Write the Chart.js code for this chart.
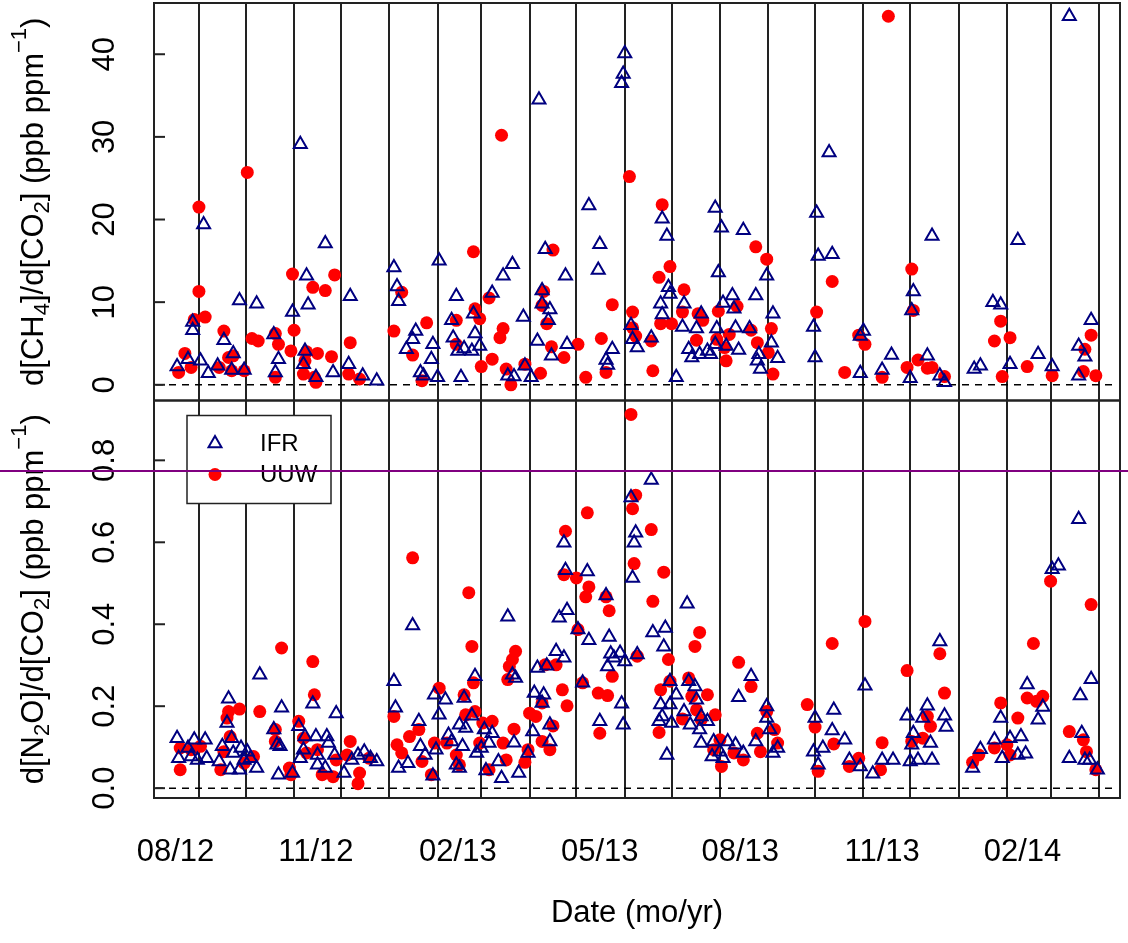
<!DOCTYPE html>
<html lang="en">
<head>
    <meta charset="UTF-8">
    <title>CH4 and N2O to CO2 ratios</title>
    <script src="https://cdn.jsdelivr.net/npm/chart.js"></script>
    <style>
        html, body { margin: 0; padding: 0; background: #fff; }
        #ratios { display: block; }
    </style>
</head>
<body>
    <canvas id="ratios" width="1128" height="943"></canvas>

    <script>
        // sample dates are days since 1 Aug 2012
        const ifrCh4Day = [34, 96, 112, 17, 24, 27, 27, 32, 37, 43, 47, 53, 52, 57, 68, 60, 79, 82, 80, 91, 100, 101, 99, 98, 106, 117, 128, 127, 136, 145,
            156, 158, 159, 170, 168, 164, 181, 180, 173, 175, 184, 185, 196, 193, 194, 197, 201, 206, 207, 208, 211, 199,
            304, 303, 302, 249, 281, 362, 366, 380, 328, 331, 232, 226, 219, 239, 229, 233, 240, 244, 253, 251, 251, 256, 255, 248, 257, 267, 266,
            288, 287, 296, 292, 293, 308, 309, 312, 321, 327, 328, 332, 333, 337, 341, 342, 345, 347, 350, 353, 352, 357, 359, 362, 363, 364, 367,
            369, 373, 374, 375, 377, 384, 388, 390, 389, 391, 395, 399, 398, 402,
            589, 435, 427, 501, 556, 428, 437, 425, 426, 457, 455, 455, 469, 475, 489, 488, 487, 498, 506, 509, 528, 532, 540, 545, 551, 569, 578,
            595, 599, 603, 595];
        const ifrCh4 = [19.4, 29.1, 17.1, 2.2, 3.1, 7.6, 6.6, 2.9, 1.4, 2.3, 5.4, 3.8, 1.8, 10.2, 9.8, 1.8, 6.1, 3.1, 1.5, 8.8, 13.2, 9.7, 4.1, 2.5, 0.9, 1.5, 10.7, 2.5, 1.1, 0.5,
            14.2, 11.9, 10.1, 6.5, 5.5, 4.3, 4.9, 3.1, 1.5, 1.1, 0.9, 15.0, 10.7, 7.8, 5.7, 4.1, 4.4, 4.1, 8.6, 6.2, 4.7, 0.9,
            40.1, 37.6, 36.5, 34.5, 21.7, 21.4, 19.0, 18.7, 20.1, 18.0, 14.6, 13.2, 11.1, 8.2, 1.1, 1.0, 2.3, 0.9, 16.4, 11.4, 9.8, 9.1, 7.8, 5.3, 3.5, 4.9, 13.2,
            17.0, 13.9, 4.3, 3.0, 2.4, 7.2, 5.5, 4.5, 5.7, 9.8, 8.5, 11.8, 11.0, 0.9, 7.0, 9.8, 4.3, 3.3, 6.8, 8.6, 3.7, 4.1, 3.7, 4.9, 6.8, 13.6, 9.9,
            4.7, 10.8, 9.2, 6.9, 4.2, 6.8, 10.8, 3.7, 2.9, 1.9, 13.2, 8.6, 5.1, 3.2,
            44.6, 28.1, 20.8, 18.0, 17.5, 15.6, 15.8, 7.0, 3.3, 6.5, 5.9, 1.4, 1.8, 3.6, 11.3, 9.0, 0.8, 3.5, 1.1, 0.3, 1.9, 2.3, 10.0, 9.7, 2.5, 3.7, 2.2,
            4.7, 3.4, 7.8, 1.1];

        const uuwCh4Day = [31, 62, 31, 28, 35, 22, 26, 18, 47, 50, 53, 52, 44, 60, 65, 69, 80, 82, 80, 91, 92, 90, 104, 112, 118, 100, 107, 116, 99, 98, 106, 105,
            128, 127, 134, 156, 161, 177, 168, 174, 196, 196, 207, 208, 211, 212,
            225, 307, 328, 258, 217, 226, 224, 219, 228, 231, 240, 250, 252, 251, 254, 257, 265, 274, 279, 289, 292, 296, 309, 309, 311, 321, 322,
            326, 333, 327, 334, 342, 341, 351, 354, 350, 364, 368, 369, 371, 376, 385, 389, 396, 398, 399, 388, 395, 363,
            473, 437, 427, 488, 489, 454, 458, 445, 469, 485, 492, 498, 501, 509, 545, 541, 551, 546, 562, 578, 603, 599, 598, 606];
        const uuwCh4 = [21.5, 25.7, 11.3, 7.9, 8.2, 3.8, 2.1, 1.5, 6.5, 3.3, 3.5, 1.7, 2.1, 1.7, 5.6, 5.3, 6.2, 4.9, 0.9, 13.4, 6.6, 4.1, 11.8, 11.4, 13.3, 4.0, 3.8, 3.4, 2.9, 1.3, 0.3, 0.9,
            5.1, 1.3, 0.7, 6.5, 11.2, 7.5, 3.6, 0.5, 7.8, 4.9, 16.1, 9.2, 8.0, 2.2,
            30.2, 25.2, 21.8, 16.3, 10.5, 6.8, 5.7, 3.1, 1.9, 0.0, 2.5, 1.4, 11.3, 9.6, 7.4, 4.6, 3.3, 4.9, 0.9, 5.6, 1.5, 9.7, 8.8, 6.9, 5.9, 5.3, 1.7,
            13.0, 14.3, 7.4, 7.4, 11.5, 8.8, 8.6, 7.8, 5.4, 8.9, 4.5, 2.9, 6.1, 9.5, 6.6, 5.1, 3.9, 6.8, 1.3, 16.7, 15.2, 5.5,
            44.6, 12.5, 8.8, 14.0, 9.0, 6.0, 4.9, 1.5, 0.9, 2.1, 3.0, 2.0, 2.1, 1.0, 7.7, 5.3, 5.7, 1.0, 2.2, 1.1, 6.0, 4.3, 1.6, 1.1];

        const ifrN2oDay = [17, 18, 24, 26, 28, 30, 35, 36, 44, 50, 49, 46, 52, 53, 51, 57, 58, 62, 60, 64, 68, 70, 84, 79, 81, 83, 82, 91, 95, 99,
            104, 106, 98, 96, 107, 107, 112, 113, 114, 118, 119, 124, 129, 133, 137, 141, 145, 156, 157, 159, 165, 172, 173, 176, 181, 183, 182,
            189, 185, 191, 193, 198, 201, 200, 202, 196, 198, 206, 208, 209,
            321, 308, 265, 311, 310, 168, 266, 280, 309, 292, 267, 262, 344, 229, 274, 281, 294, 322, 330, 329, 260, 265, 248, 254, 295, 301, 297,
            293, 304, 312, 277, 246, 252, 251, 232, 234, 302, 303, 288, 333, 337, 327, 333, 328, 326, 334, 331, 345, 349, 350, 342, 346, 352, 353,
            357, 353, 361, 360, 365, 367, 370, 375, 380, 377, 385, 388, 395, 395, 397, 399, 402, 245, 256, 256, 242, 236, 225, 223, 215, 214, 219,
            217, 212, 233,
            595, 578, 582, 506, 458, 603, 596, 562, 426, 438, 437, 445, 431, 425, 428, 448, 455, 463, 469, 476, 485, 495, 498, 509, 510, 489, 488,
            500, 487, 492, 501, 527, 532, 541, 545, 546, 551, 558, 556, 561, 569, 572, 597, 589, 599, 602, 607];
        const ifrN2o = [0.122, 0.073, 0.098, 0.077, 0.118, 0.069, 0.118, 0.073, 0.065, 0.218, 0.159, 0.102, 0.122, 0.086, 0.045, 0.045, 0.098, 0.089, 0.069, 0.073, 0.049, 0.277, 0.196, 0.143, 0.106, 0.102, 0.033, 0.037, 0.151, 0.126,
            0.206, 0.126, 0.094, 0.073, 0.081, 0.057, 0.049, 0.126, 0.110, 0.081, 0.182, 0.037, 0.069, 0.081, 0.089, 0.073, 0.065, 0.261, 0.196, 0.049, 0.061, 0.163, 0.102, 0.081, 0.030, 0.094, 0.228,
            0.216, 0.179, 0.130, 0.114, 0.155, 0.220, 0.102, 0.147, 0.057, 0.049, 0.177, 0.273, 0.086,
            0.752, 0.709, 0.599, 0.623, 0.599, 0.397, 0.532, 0.529, 0.513, 0.470, 0.434, 0.416, 0.450, 0.418, 0.387, 0.361, 0.369, 0.380, 0.391, 0.345, 0.334, 0.318, 0.293, 0.299, 0.328, 0.330, 0.318,
            0.297, 0.309, 0.326, 0.257, 0.232, 0.228, 0.208, 0.277, 0.269, 0.206, 0.155, 0.163, 0.261, 0.228, 0.204, 0.204, 0.175, 0.163, 0.159, 0.081, 0.261, 0.248, 0.216, 0.187, 0.155, 0.143, 0.175,
            0.163, 0.110, 0.114, 0.077, 0.089, 0.073, 0.114, 0.106, 0.086, 0.222, 0.273, 0.114, 0.199, 0.171, 0.143, 0.086, 0.098, 0.138, 0.155, 0.114, 0.086, 0.037, 0.024, 0.065, 0.043, 0.143, 0.134,
            0.110, 0.098, 0.111,
            0.656, 0.534, 0.543, 0.358, 0.250, 0.266, 0.226, 0.253, 0.171, 0.191, 0.141, 0.118, 0.098, 0.089, 0.057, 0.069, 0.053, 0.035, 0.069, 0.069, 0.177, 0.171, 0.201, 0.177, 0.149, 0.134, 0.106,
            0.110, 0.065, 0.069, 0.069, 0.049, 0.095, 0.118, 0.171, 0.073, 0.122, 0.126, 0.081, 0.084, 0.167, 0.198, 0.134, 0.073, 0.069, 0.069, 0.045];

        const uuwN2oDay = [84, 104, 105, 70, 57, 50, 49, 51, 19, 19, 26, 32, 45, 47, 60, 66, 80, 80, 89, 90, 95, 98, 100, 107, 110, 117, 119, 128, 134, 133,
            126, 140, 156, 158, 161, 166, 172, 174, 182, 185, 190, 196, 201, 202, 206, 207, 208, 211, 198, 180,
            308, 311, 309, 280, 266, 321, 168, 204, 310, 329, 322, 352, 349, 265, 273, 281, 279, 292, 294, 274, 277, 296, 287, 293, 288, 312, 332,
            333, 327, 326, 345, 347, 357, 362, 341, 350, 353, 365, 366, 361, 377, 385, 380, 374, 389, 391, 395, 400, 402, 421, 234, 232, 230, 229,
            260, 253, 264, 267, 243, 247, 258, 233, 219, 213, 226, 251, 256, 242, 240, 228, 217, 251,
            577, 603, 458, 437, 566, 506, 485, 509, 545, 562, 572, 568, 426, 438, 428, 448, 454, 469, 468, 498, 500, 495, 488, 556, 549, 541, 551,
            531, 527, 589, 598, 600, 606];
        const uuwN2o = [0.342, 0.309, 0.228, 0.187, 0.193, 0.187, 0.171, 0.126, 0.098, 0.045, 0.094, 0.102, 0.045, 0.089, 0.061, 0.077, 0.143, 0.114, 0.049, 0.033, 0.163, 0.122, 0.086, 0.094, 0.033, 0.028, 0.069, 0.114, 0.037, 0.011,
            0.081, 0.073, 0.175, 0.106, 0.086, 0.126, 0.143, 0.065, 0.110, 0.244, 0.110, 0.081, 0.228, 0.179, 0.346, 0.257, 0.187, 0.110, 0.057, 0.033,
            0.912, 0.715, 0.682, 0.672, 0.627, 0.631, 0.562, 0.477, 0.548, 0.527, 0.456, 0.380, 0.346, 0.521, 0.513, 0.491, 0.467, 0.467, 0.433, 0.387, 0.257, 0.273, 0.232, 0.226, 0.134, 0.322, 0.314,
            0.261, 0.240, 0.136, 0.269, 0.224, 0.228, 0.179, 0.169, 0.191, 0.167, 0.118, 0.053, 0.094, 0.307, 0.248, 0.069, 0.086, 0.134, 0.089, 0.187, 0.143, 0.110, 0.204, 0.334, 0.314, 0.297, 0.265,
            0.301, 0.301, 0.240, 0.201, 0.183, 0.175, 0.152, 0.144, 0.163, 0.159, 0.110, 0.114, 0.094, 0.094, 0.063, 0.069, 0.045, 0.208,
            0.505, 0.448, 0.407, 0.353, 0.353, 0.328, 0.287, 0.232, 0.208, 0.220, 0.224, 0.212, 0.149, 0.108, 0.041, 0.053, 0.073, 0.111, 0.045, 0.175, 0.151, 0.122, 0.114, 0.171, 0.106, 0.098, 0.081,
            0.081, 0.063, 0.138, 0.118, 0.089, 0.045];

        const dateTickDays = [16, 106, 197, 288, 378, 469, 559];
        const dateTickLabels = ['08/12', '11/12', '02/13', '05/13', '08/13', '11/13', '02/14'];
        const ch4Ticks = [0, 10, 20, 30, 40];
        const ch4TickLabels = ['0', '10', '20', '30', '40'];
        const n2oTicks = [0, 0.2, 0.4, 0.6, 0.8];
        const n2oTickLabels = ['0.0', '0.2', '0.4', '0.6', '0.8'];
        const seriesNames = ['IFR', 'UUW'];
        const markerLevel = 0.774;

        const ORIGIN = Date.UTC(2012, 7, 1);
        const monthStarts = [];
        for (let m = 8; m < 28; m++) {
            monthStarts.push((Date.UTC(2012, m, 1) - ORIGIN) / 86400000);
        }

        const FONT = '"Liberation Sans", Arial, Helvetica, sans-serif';
        Chart.defaults.font.family = FONT;
        Chart.defaults.color = '#000';

        const pts = (days, vals) => days.map((d, i) => ({ x: d, y: vals[i] }));

        const ifrStyle = {
            pointStyle: 'triangle', pointRadius: 7.5, pointBorderWidth: 2,
            pointBorderColor: '#000080', pointBackgroundColor: 'rgba(0,0,0,0)'
        };
        const uuwStyle = {
            pointStyle: 'circle', pointRadius: 6.5, pointBorderWidth: 0,
            pointBorderColor: '#ff0000', pointBackgroundColor: '#ff0000'
        };

        const ch4Title = [['d[CH', 'n'], ['4', 'sub'], [']/d[CO', 'n'], ['2', 'sub'], ['] (ppb ppm', 'n'], ['\u22121', 'sup'], [')', 'n']];
        const n2oTitle = [['d[N', 'n'], ['2', 'sub'], ['O]/d[CO', 'n'], ['2', 'sub'], ['] (ppb ppm', 'n'], ['\u22121', 'sup'], [')', 'n']];

        // rotated axis title with sub/superscripts, reading bottom to top
        function drawRotatedMath(ctx, parts, baseX, centerY, size) {
            const fontFor = k => (k === 'n' ? size : Math.round(size * 0.72)) + 'px ' + FONT;
            ctx.save();
            ctx.translate(baseX, centerY);
            ctx.rotate(-Math.PI / 2);
            let total = 0;
            parts.forEach(p => { ctx.font = fontFor(p[1]); total += ctx.measureText(p[0]).width; });
            let x = -total / 2;
            ctx.textAlign = 'left';
            ctx.textBaseline = 'alphabetic';
            ctx.fillStyle = '#000';
            parts.forEach(p => {
                ctx.font = fontFor(p[1]);
                const dy = p[1] === 'sub' ? size * 0.18 : p[1] === 'sup' ? -size * 0.55 : 0;
                ctx.fillText(p[0], x, dy);
                x += ctx.measureText(p[0]).width;
            });
            ctx.restore();
        }

        const panelPlugin = {
            id: 'panels',
            beforeDatasetsDraw(chart) {
                const { ctx, chartArea, scales } = chart;
                const left = chartArea.left, right = chartArea.right;
                const panels = [
                    [scales.yCh4, ch4Ticks, ch4TickLabels, ch4Title],
                    [scales.yN2o, n2oTicks, n2oTickLabels, n2oTitle]
                ];
                ctx.save();
                panels.forEach(([s, ticks, labels, title]) => {
                    // dashed zero line
                    const y0 = s.getPixelForValue(0);
                    ctx.setLineDash([7, 6]);
                    ctx.lineWidth = 1.5;
                    ctx.strokeStyle = '#000';
                    ctx.beginPath();
                    ctx.moveTo(left + 2, y0);
                    ctx.lineTo(right - 7, y0);
                    ctx.stroke();
                    ctx.setLineDash([]);

                    // frame
                    ctx.lineWidth = 2;
                    ctx.strokeStyle = '#222';
                    ctx.strokeRect(left, s.top, right - left, s.bottom - s.top);

                    // inward ticks and rotated labels
                    ctx.font = '31px ' + FONT;
                    ctx.fillStyle = '#000';
                    ctx.textAlign = 'center';
                    ctx.textBaseline = 'middle';
                    ticks.forEach((v, i) => {
                        const y = s.getPixelForValue(v);
                        ctx.beginPath();
                        ctx.moveTo(left, y);
                        ctx.lineTo(left + 11, y);
                        ctx.stroke();
                        ctx.save();
                        ctx.translate(left - 49, y);
                        ctx.rotate(-Math.PI / 2);
                        ctx.fillText(labels[i], 0, 0);
                        ctx.restore();
                    });

                    drawRotatedMath(ctx, title, 43, (s.top + s.bottom) / 2, 31);
                });
                ctx.restore();
            },
            afterDatasetsDraw(chart) {
                const { ctx, chartArea, scales } = chart;
                const lx = chartArea.left + 33, ly = scales.yN2o.top + 15;
                ctx.save();
                ctx.fillStyle = '#fff';
                ctx.fillRect(lx, ly, 144, 88);
                ctx.strokeStyle = '#222';
                ctx.lineWidth = 1.5;
                ctx.strokeRect(lx, ly, 144, 88);

                const styles = [ifrStyle, uuwStyle];
                styles.forEach((st, i) => {
                    const cy = ly + 28 + i * 31;
                    ctx.strokeStyle = st.pointBorderColor;
                    ctx.fillStyle = st.pointBackgroundColor;
                    ctx.lineWidth = st.pointBorderWidth;
                    Chart.helpers.drawPoint(ctx, {
                        pointStyle: st.pointStyle, radius: st.pointRadius,
                        borderWidth: st.pointBorderWidth, rotation: 0
                    }, lx + 28, cy);
                    ctx.fillStyle = '#000';
                    ctx.font = '24px ' + FONT;
                    ctx.textAlign = 'left';
                    ctx.textBaseline = 'middle';
                    ctx.fillText(seriesNames[i], lx + 73, cy + 1);
                });

                // horizontal marker line across the whole figure
                const ym = scales.yN2o.getPixelForValue(markerLevel);
                ctx.strokeStyle = '#800080';
                ctx.lineWidth = 2;
                ctx.beginPath();
                ctx.moveTo(0, ym);
                ctx.lineTo(chart.width, ym);
                ctx.stroke();
                ctx.restore();
            }
        };

        new Chart('ratios', {
            type: 'scatter',
            data: {
                datasets: [
                    Object.assign({ label: 'IFR', yAxisID: 'yCh4', data: pts(ifrCh4Day, ifrCh4) }, ifrStyle),
                    Object.assign({ label: 'UUW', yAxisID: 'yCh4', data: pts(uuwCh4Day, uuwCh4) }, uuwStyle),
                    Object.assign({ label: 'IFR', yAxisID: 'yN2o', data: pts(ifrN2oDay, ifrN2o) }, ifrStyle),
                    Object.assign({ label: 'UUW', yAxisID: 'yN2o', data: pts(uuwN2oDay, uuwN2o) }, uuwStyle)
                ]
            },
            options: {
                responsive: false,
                animation: false,
                events: [],
                layout: { autoPadding: false, padding: { top: 3, right: 8, left: 0, bottom: 0 } },
                plugins: { legend: { display: false }, tooltip: { enabled: false } },
                scales: {
                    x: {
                        type: 'linear',
                        bounds: 'data',
                        min: 2.2,
                        max: 621.5,
                        afterBuildTicks: s => { s.ticks = monthStarts.concat(dateTickDays).map(v => ({ value: v })); },
                        afterFit: s => { s.height = 145; },
                        grid: {
                            color: c => (c.tick && monthStarts.includes(c.tick.value)) ? '#222' : 'rgba(0,0,0,0)',
                            lineWidth: 2,
                            drawTicks: false
                        },
                        border: { display: false },
                        ticks: {
                            autoSkip: false,
                            maxRotation: 0,
                            minRotation: 0,
                            padding: 36,
                            font: { size: 31 },
                            callback: v => {
                                const i = dateTickDays.indexOf(v);
                                return i < 0 ? '' : dateTickLabels[i];
                            }
                        },
                        title: {
                            display: true,
                            text: 'Date (mo/yr)',
                            font: { size: 31 },
                            padding: { top: 0, bottom: 11 }
                        }
                    },
                    yCh4: {
                        type: 'linear', position: 'left', stack: 'panels', stackWeight: 1, weight: 2,
                        min: -1.9, max: 46.2,
                        afterFit: s => { s.width = 154; },
                        ticks: { display: false },
                        grid: { display: false },
                        border: { display: false }
                    },
                    yN2o: {
                        type: 'linear', position: 'left', stack: 'panels', stackWeight: 1, weight: 1,
                        min: -0.024, max: 0.946,
                        afterFit: s => { s.width = 154; },
                        ticks: { display: false },
                        grid: { display: false },
                        border: { display: false }
                    }
                }
            },
            plugins: [panelPlugin]
        });
    </script>
</body>
</html>
